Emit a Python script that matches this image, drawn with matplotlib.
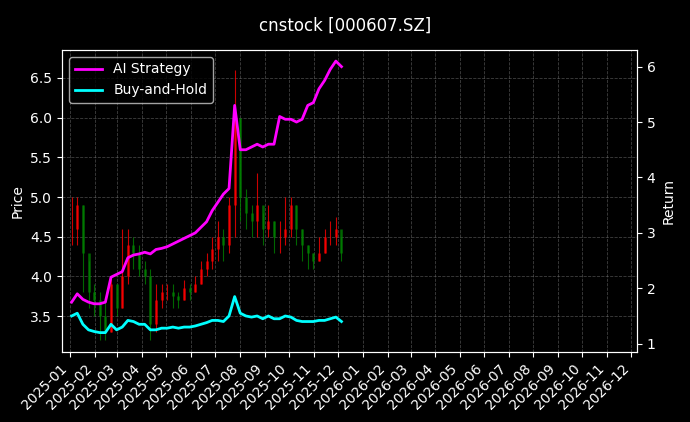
import numpy as np
import pandas as pd
import matplotlib
matplotlib.use("Agg")
import matplotlib.pyplot as plt
import matplotlib.dates as mdates

# weekly values
close = [4.6, 4.9, 4.3, 3.8, 3.7, 3.5, 3.3, 3.9, 3.6, 4.0, 4.4, 4.3, 4.1,
         4.0, 3.4, 3.7, 3.8, 3.8, 3.75, 3.7, 3.85, 3.8, 3.9, 4.1, 4.2, 4.35,
         4.5, 4.4, 4.9, 6.0, 5.0, 4.8, 4.7, 4.9, 4.6, 4.7, 4.5, 4.5, 4.6,
         4.9, 4.6, 4.4, 4.3, 4.2, 4.3, 4.5, 4.5, 4.6, 4.3]
high = [5.0, 5.0, 4.9, 4.2, 3.9, 3.8, 3.7, 4.0, 3.9, 4.6, 4.6, 4.5, 4.4,
        4.2, 4.1, 3.9, 3.9, 3.9, 3.9, 3.8, 3.95, 3.9, 4.0, 4.2, 4.3, 4.5,
        4.7, 4.6, 5.0, 6.6, 6.0, 5.1, 4.9, 5.3, 4.8, 4.9, 4.7, 4.7, 5.0,
        5.0, 4.9, 4.6, 4.4, 4.3, 4.5, 4.6, 4.7, 4.75, 4.5]
low = [4.4, 4.4, 3.8, 3.6, 3.5, 3.2, 3.2, 3.3, 3.5, 3.6, 3.9, 4.1, 4.0,
       3.9, 3.2, 3.3, 3.6, 3.7, 3.6, 3.6, 3.7, 3.7, 3.8, 3.9, 4.0, 4.1,
       4.2, 4.2, 4.3, 4.5, 4.7, 4.6, 4.5, 4.5, 4.4, 4.5, 4.3, 4.3, 4.4,
       4.5, 4.4, 4.2, 4.1, 4.1, 4.2, 4.3, 4.4, 4.4, 4.2]
ai_ret = [1.75, 1.9, 1.8, 1.75, 1.72, 1.72, 1.75, 2.2, 2.25, 2.3, 2.55, 2.6, 2.62,
          2.65, 2.62, 2.7, 2.72, 2.75, 2.8, 2.85, 2.9, 2.95, 3.0, 3.1, 3.2, 3.4,
          3.55, 3.7, 3.8, 5.3, 4.5, 4.5, 4.55, 4.6, 4.55, 4.6, 4.6, 5.1, 5.05,
          5.05, 5.0, 5.05, 5.3, 5.35, 5.6, 5.75, 5.95, 6.1, 6.0]
bh_ret = [1.5, 1.55, 1.35, 1.25, 1.22, 1.2, 1.2, 1.35, 1.25, 1.3, 1.42, 1.4, 1.35,
          1.35, 1.25, 1.25, 1.28, 1.28, 1.3, 1.28, 1.3, 1.3, 1.32, 1.35, 1.38, 1.42,
          1.42, 1.4, 1.5, 1.85, 1.55, 1.5, 1.48, 1.5, 1.45, 1.5, 1.45, 1.45, 1.5,
          1.48, 1.42, 1.4, 1.4, 1.4, 1.42, 1.42, 1.45, 1.48, 1.4]
dates = pd.date_range("2025-01-03", periods=len(close), freq="W-FRI")

plt.style.use("dark_background")
fig = plt.figure(figsize=(6.9, 4.22), dpi=100)
ax = fig.add_axes([62/690, 70/422, 575/690, 302/422])
fig.suptitle("cnstock [000607.SZ]", y=0.96, fontsize=12)

opens = [close[0]] + close[:-1]
for d, o, c, h, l in zip(dates, opens, close, high, low):
    col = "red" if c >= o else "green"
    ax.vlines(d, l, h, color=col, linewidth=0.8, alpha=0.8)
    ax.vlines(d, min(o, c), max(o, c), color=col, linewidth=1.8, alpha=0.8)

ax.set_ylabel("Price")
ax.set_ylim(3.05, 6.85)
ax.set_xlim(pd.Timestamp("2024-12-22"), pd.Timestamp("2026-12-08"))
ax.xaxis.set_major_locator(mdates.MonthLocator())
ax.xaxis.set_major_formatter(mdates.DateFormatter("%Y-%m"))
plt.setp(ax.get_xticklabels(), rotation=45, ha="right")
ax.grid(True, linestyle="--", color="gray", alpha=0.5, linewidth=0.6)

ax2 = ax.twinx()
ax2.plot(dates, ai_ret, color="magenta", linewidth=2, label="AI Strategy")
ax2.plot(dates, bh_ret, color="cyan", linewidth=2, label="Buy-and-Hold")
ax2.set_ylabel("Return")
ax2.set_ylim(0.85, 6.3)
ax2.legend(loc="upper left")

fig.savefig("out.png", dpi=100)
